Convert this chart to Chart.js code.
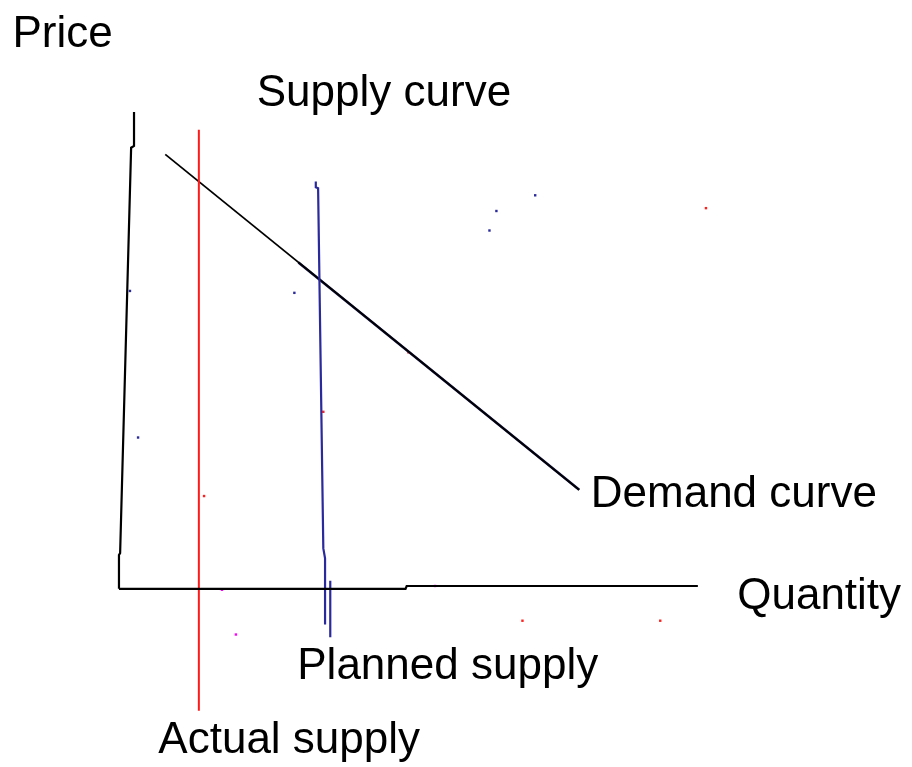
<!DOCTYPE html>
<html>
<head>
<meta charset="utf-8">
<script src="https://cdn.jsdelivr.net/npm/chart.js@4"></script>
<style>
  html, body { margin: 0; padding: 0; background: #fff; overflow: hidden; }
  #wrap { width: 912px; height: 767px; }
</style>
</head>
<body>
<div id="wrap"><canvas id="chart"></canvas></div>
<script>
// Diagram units: quantity along x, price along y (origin where the axes meet)
const priceAxis = [[2.6, 100.2], [2.6, 93.1], [2.1, 92.7], [0.2, 7.5], [0, 7.1], [0, 0]];
const quantityAxis = [[0, 0], [49.5, 0], [49.7, 0.6], [100, 0.6]];

const actualSupply = [[13.8, 96.5], [13.8, -25.6]];
const plannedSupply = [[34.0, 85.6], [34.0, 84.4], [34.4, 84.2], [35.3, 8.5], [35.6, 6.4], [35.6, -7.5]];
const plannedSupply2 = [[36.5, 1.7], [36.5, -10.2]];

const demand = [[8.0, 91.3], [79.5, 20.8]];
const demandDark = [[31.0, 68.6], [79.5, 20.8]];

// stray specks left in the original drawing
const specksBlue = [[1.9, 62.6], [3.3, 31.8], [30.3, 62.2], [65.2, 79.4], [71.9, 82.7], [64.0, 75.3]];
const specksRed = [[101.4, 80.0], [50.0, 49.7], [35.3, 37.2], [14.7, 19.5], [93.5, -6.7], [69.7, -6.7]];
const specksPink = [[17.8, -0.2], [20.2, -9.6], [54.6, 0.6]];

const labelText = ['Price', 'Supply curve', 'Demand curve', 'Quantity', 'Planned supply', 'Actual supply'];
const labelAt = [[-18.4, 113.9], [23.8, 101.5], [81.5, 17.3], [106.8, -4.2], [30.8, -18.9], [6.8, -34.5]];

const pts = arr => arr.map(([x, y]) => ({ x, y }));

function line(data, color, width) {
  return {
    type: 'line',
    data: pts(data),
    borderColor: color,
    borderWidth: width,
    pointRadius: 0,
    tension: 0,
    clip: false,
  };
}

function specks(data, color) {
  return {
    type: 'scatter',
    data: pts(data),
    backgroundColor: color,
    borderWidth: 0,
    pointStyle: 'rect',
    pointRadius: 1.7,
    clip: false,
  };
}

// draws the hand-placed captions at diagram coordinates
const captions = {
  id: 'captions',
  afterDatasetsDraw(chart) {
    const { ctx, scales } = chart;
    ctx.save();
    ctx.font = '44px "Liberation Sans", Arial, sans-serif';
    ctx.fillStyle = '#000';
    ctx.textBaseline = 'alphabetic';
    ctx.textAlign = 'left';
    labelText.forEach((t, i) => {
      const [q, p] = labelAt[i];
      ctx.fillText(t, scales.x.getPixelForValue(q), scales.y.getPixelForValue(p));
    });
    ctx.restore();
  },
};

new Chart(document.getElementById('chart'), {
  data: {
    datasets: [
      line(priceAxis, '#000', 2.2),
      line(quantityAxis, '#000', 2.2),
      line(actualSupply, '#ff1a1a', 2),
      line(plannedSupply, '#2a2a9c', 2.2),
      line(plannedSupply2, '#2a2a9c', 2.2),
      line(demand, '#000', 1.8),
      line(demandDark, '#14144a', 2.6),
      specks(specksBlue, '#2a2a9c'),
      specks(specksRed, '#ff2020'),
      specks(specksPink, '#ff00ff'),
    ],
  },
  options: {
    responsive: true,
    maintainAspectRatio: false,
    animation: false,
    layout: { padding: 0 },
    plugins: { legend: { display: false }, tooltip: { enabled: false } },
    scales: {
      x: { type: 'linear', display: false, min: -19.86, max: 136.3 },
      y: { type: 'linear', display: false, min: -36.6, max: 122.9 },
    },
  },
  plugins: [captions],
});
</script>
</body>
</html>
